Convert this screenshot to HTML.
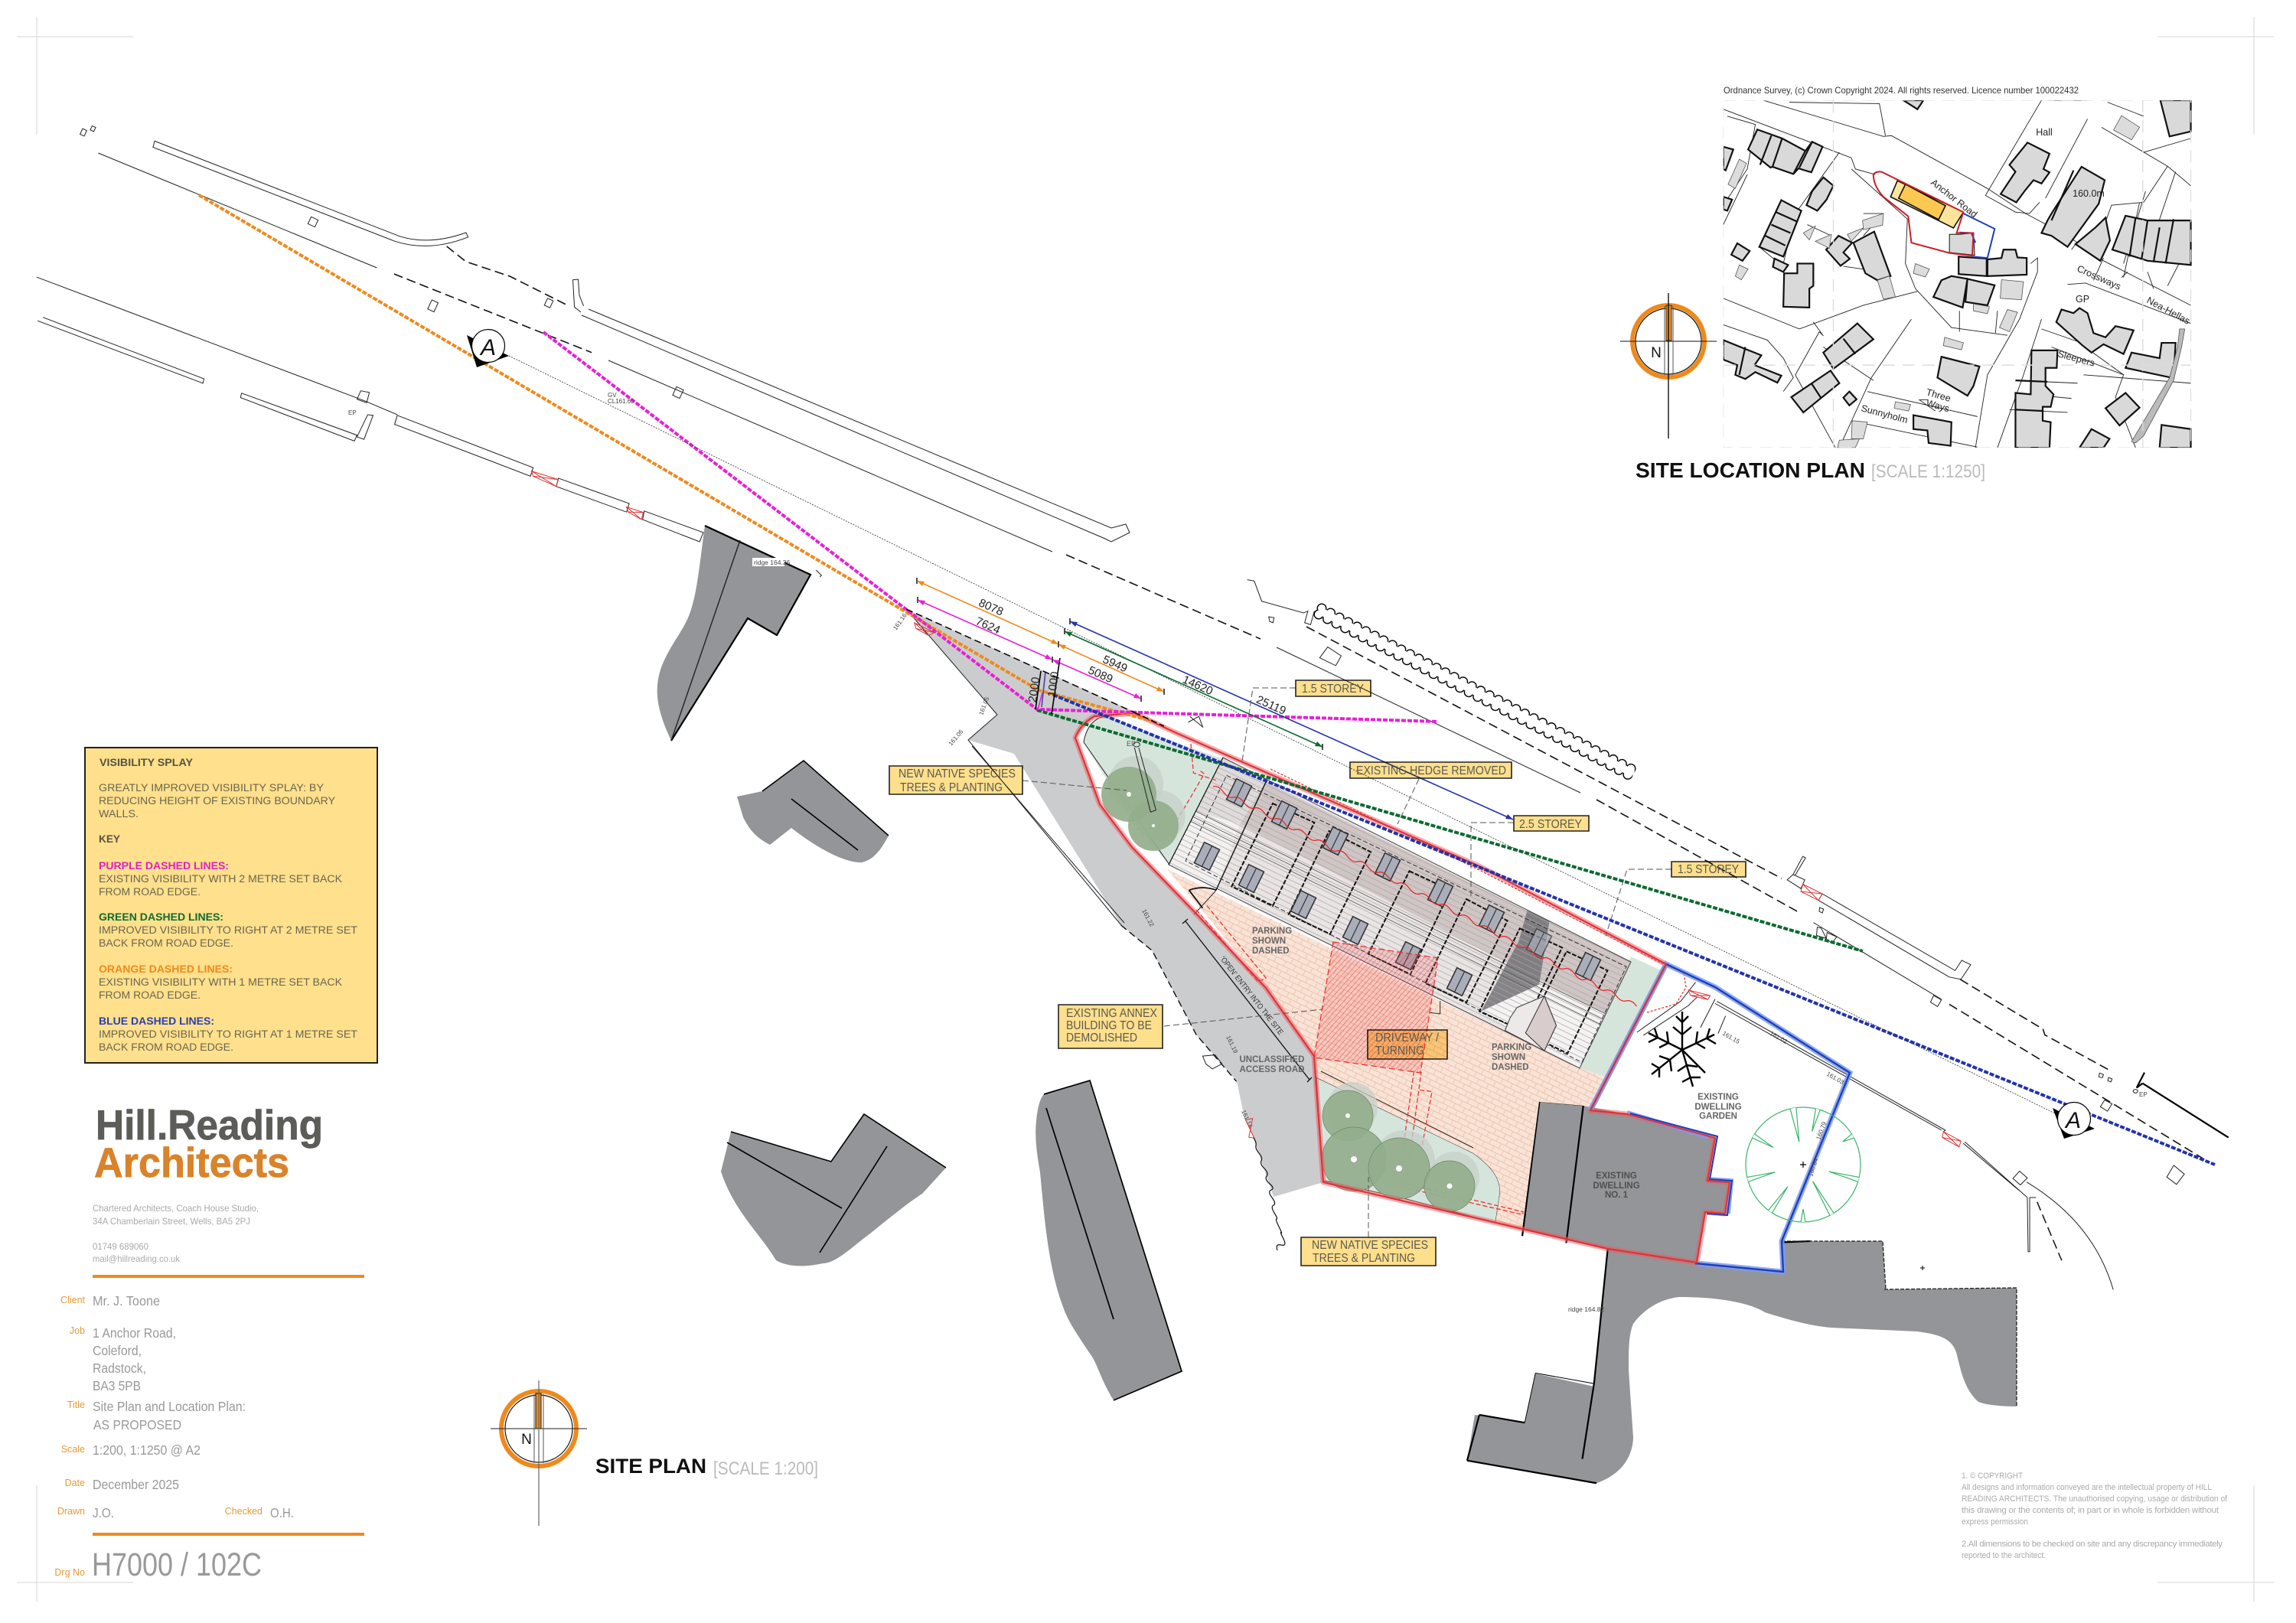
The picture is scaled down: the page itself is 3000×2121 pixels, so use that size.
<!DOCTYPE html>
<html><head><meta charset="utf-8"><style>
html,body{margin:0;padding:0;background:#fff}
svg{display:block;font-family:"Liberation Sans",sans-serif}
svg *{vector-effect:non-scaling-stroke}
.l{fill:none;stroke:#222;stroke-width:1}
.d{fill:none;stroke:#111;stroke-width:1.6;stroke-dasharray:12 6}
.b{fill:#939598;stroke:none}
.k{fill:none;stroke:#000;stroke-width:2.2}
.box{fill:#fedf8c;stroke:#222;stroke-width:1.6;mix-blend-mode:multiply}
.lt{font-size:16px;fill:#5c5a50}
.lead{fill:none;stroke:#555;stroke-width:1;stroke-dasharray:8 4}
.dim{font-size:15px;fill:#222}
.sm{font-size:11.5px;font-weight:bold;fill:#666}
.tiny{font-size:8px;fill:#444}
.win{fill:#a9aeba;stroke:#333;stroke-width:1.6}
.lg{font-size:13.5px;fill:#6a6550}
.tb{font-size:17.3px;fill:#999}
.or{font-size:12.5px;fill:#e39a3a;text-anchor:end}
.cp{font-size:11.4px;fill:#aaa}
.os{fill:#d9d9d9;stroke:#111;stroke-width:2.2}
.ol{fill:#dcdcdc;stroke:#555;stroke-width:.8}
.ot{font-size:12.5px;fill:#222}
.ro{fill:none;stroke:#222;stroke-width:.9}
.dots{fill:none;stroke-linecap:round;stroke-dasharray:0 13}
.vm{fill:none;stroke-width:4;stroke-dasharray:6 2}
</style></head><body>
<svg xmlns="http://www.w3.org/2000/svg" width="3000" height="2121" viewBox="0 0 3000 2121" fill="none">
<defs>
<pattern id="brick" width="14" height="14" patternUnits="userSpaceOnUse" patternTransform="rotate(26)"><rect width="14" height="14" fill="#f8e3d6"/><path d="M0 .5H14M0 7.5H14M3 0V7M10 7V14" stroke="#eec3ae" stroke-width=".9"/></pattern>
<pattern id="rooflines" width="10" height="7" patternUnits="userSpaceOnUse" patternTransform="rotate(26)"><path d="M0 .5H10" stroke="#aaa3a3" stroke-width=".7"/></pattern>
<pattern id="redh" width="5" height="5" patternUnits="userSpaceOnUse" patternTransform="rotate(-48)"><rect width="5" height="5" fill="#e8555a" fill-opacity=".18"/><path d="M0 .5H5" stroke="#e53535" stroke-width=".9" stroke-opacity=".5"/></pattern>
<clipPath id="osclip"><rect x="0" y="113" width="1458" height="1249" transform="translate(290 0)"/></clipPath>
<g id="w"><rect class="win" x="-11" y="-15" width="22" height="30"/><path d="M0 -15V15" stroke="#333" stroke-width="1.2"/></g>
</defs>

<!-- crop marks -->
<g stroke="#ddd" stroke-width="1.2"><path d="M22 48H174M48 22V176M2819 48H2971M2945 22V176M22 2068H174M48 1941V2093M2819 2068H2971M2945 1941V2093"/></g>

<!-- ACCESS ROAD -->
<path d="M1184 796L1482 930L1430 936L1405 964L1437 1051L1479 1107L1563 1194L1654 1291L1717 1380L1729 1545L1664 1564L1638 1487L1626 1461L1616 1413L1563 1352L1505 1242L1465 1209L1325 985L1265 967L1303 934Z" fill="#cbcccd"/>
<path d="M1184 796L1303 934L1265 967L1465 1209M1270 975L1469 1206" class="l"/>

<!-- road and kerb drawing from Z6 -->
<g transform="translate(0 100) scale(.7015 .4464)" class="l">
<path d="M288 189L745 468Q800 495 868 457L872 470Q800 515 735 482L285 207Z"/>
<path d="M183 224L702 560"/>
<path d="M734 578L1102 808" class="d"/>
<path d="M832 497L868 542L950 585L1060 672" class="d"/>
<path d="M1067 595L1077 594L1079 640L1087 672M1082 690L1070 675L1067 595"/>
<path d="M68 587L680 950L740 990"/>
<path d="M80 705L380 885L378 898L70 715"/>
<path d="M450 927L665 1050L660 1067L448 940ZM685 990L695 992L678 1062L665 1055Z"/>
<path d="M672 920L688 925L683 955L665 945Z"/>
<path d="M740 992L993 1145L988 1170L735 1018Z"/>
<path d="M1040 1176L1172 1250L1167 1275L1036 1200Z"/>
<path d="M1200 1272L1310 1335L1303 1362L1197 1297Z"/>
<path d="M990 1155L1040 1180L1036 1200L993 1170Z M1167 1260L1198 1276L1195 1297L1170 1275Z" stroke="#d33"/>
<path d="M990 1155L1036 1200M993 1170L1040 1180M1167 1260L1195 1297M1170 1275L1198 1276" stroke="#d33"/>
<path d="M1520 1445L1530 1460L1527 1465"/>
</g>
<g class="l">
<path d="M769 404L1452 690L1471 685L1476 696L1452 708L1444 704L760 412"/>
<path d="M795 471L1375 721"/>
<path d="M1393 725L1647 835" class="d"/>
<path d="M1668 846L2065 1036"/>
<path d="M1707 819L2328 1148" class="d"/>
<path d="M2086 1045L2350 1192" class="d"/>
</g>
<g class="l" fill="none">
<rect x="-5" y="-5" width="10" height="10" transform="translate(409 290) rotate(25)"/><rect x="-4" y="-7" width="9" height="13" transform="translate(565 400) rotate(25)"/><rect x="-4" y="-5" width="8" height="10" transform="translate(717 396) rotate(25)"/><rect x="-5" y="-6" width="10" height="12" transform="translate(886 513) rotate(25)"/><rect x="-3" y="-4" width="6" height="8" transform="translate(109 173) rotate(25)"/><rect x="-2" y="-3" width="5" height="6" transform="translate(121 168) rotate(25)"/>
</g>
<!-- Z11 east part -->
<g transform="translate(2200 1100) scale(.5102 .3827)" class="l">
<path d="M708 470L920 640L925 660L1090 780" class="d"/>
<path d="M680 555L1340 1090" class="d"/>
<path d="M332 276L660 538"/>
<path d="M355 178L695 440L712 405L735 420L710 470L680 462L345 200Z"/>
<path d="M265 130L280 112L310 130L300 160ZM280 112L305 50L312 55L285 115"/>
<path d="M305 145L355 178L345 200L300 170ZM305 145L345 200M300 170L355 178" stroke="#d33"/>
<path d="M342 292L352 295L365 330L340 320ZM367 310L392 325L380 345L365 335Z"/>
<path d="M1175 825L1395 1010M1180 788L1160 840L1175 825" class="k"/>
<path d="M85 545L670 985L665 990M80 552L660 985"/>
<path d="M665 990L710 1022L705 1042L662 1010ZM665 990L705 1042M662 1010L710 1022" stroke="#d33"/>
<path d="M720 1025L880 1215M716 1030L858 1190M880 1215L882 1400L886 1400L886 1215L902 1215"/>
<path d="M905 1230L968 1430" class="d" style="stroke-width:1.5"/>
<path d="M878 1162Q1050 1300 1100 1530"/>
<path d="M348 225L358 230L355 243L347 238ZM640 525L660 540L650 563L632 548ZM1065 790L1075 795L1072 806L1063 803ZM1088 805L1097 810L1094 820L1086 816ZM1078 882L1097 895L1085 920L1067 905ZM1255 1105L1282 1135L1262 1170L1237 1145ZM860 1125L880 1148L862 1172L843 1150Z"/>
<circle cx="1157" cy="852" r="6"/>
<path d="M107 595L88 655"/>
</g>
<text x="2795" y="1433" class="tiny">EP</text>
<!-- wedge by the tree -->
<g transform="translate(1600 1150) scale(.6378 .5102)" class="l">
<path d="M845 390L935 310L965 262M858 398L950 322L968 300M1005 305L975 378"/>
<path d="M950 282L995 296L990 306L955 296ZM950 282L990 306M955 296L995 296" stroke="#d33"/>
</g>

<!-- Grey buildings -->
<g transform="translate(-4 -3)">
<path class="b" d="M925 690L1063 754L1019 833L981 811L881 971C862 930 858 905 868 875C880 845 895 830 904 808C915 780 918 740 925 690Z"/>
<path class="k" d="M925 690L1063 754L1019 833L981 811L881 971"/>
<path class="l" style="stroke-width:1.4" d="M971 709L881 971"/>
</g>
<rect x="983" y="729" width="42" height="11" fill="#fff"/><text x="985" y="738" class="tiny" style="font-size:8.5px">ridge 164.36</text>
<g transform="translate(-4 -4)">
<path class="b" d="M1054 998L1165 1096C1155 1115 1145 1128 1130 1131C1110 1132 1075 1115 1038 1086L1010 1108C995 1100 985 1092 975 1072L967 1045L1000 1038Z"/>
<path class="k" d="M1000 1038L1054 998L1165 1096M1038 1048L1125 1115" style="stroke-width:1.6"/>
</g>
<g transform="translate(-6 -7)">
<path class="b" d="M1135 1463L1242 1533L1211 1567C1190 1580 1155 1610 1135 1625C1110 1645 1095 1658 1081 1658C1050 1665 1030 1660 1020 1654C1000 1620 965 1590 948 1538L961 1486L1092 1525Z"/>
<path class="k" d="M961 1486L1092 1525L1135 1463L1242 1533M956 1500L1106 1586M1165 1505L1077 1644" style="stroke-width:1.6"/>
</g>
<g transform="translate(-6 -6)">
<path class="b" d="M1430 1418L1550 1798L1461 1836C1445 1810 1440 1790 1433 1779C1410 1745 1400 1730 1394 1711C1375 1660 1370 1590 1365 1538C1360 1510 1358 1490 1360 1471C1362 1450 1366 1440 1370 1436Z"/>
<path class="k" d="M1370 1436L1430 1418L1550 1798L1461 1836M1373 1454L1461 1730" style="stroke-width:1.7"/>
</g>

<!-- right big grey -->
<path class="b" d="M2011 1440L2069 1445L2126 1456L2241 1487L2231 1543L2260 1545L2254 1586L2228 1584L2217 1650L2330 1662L2328 1622L2460 1622L2464 1685L2635 1683L2635 1838C2610 1838 2592 1835 2585 1832C2566 1815 2562 1790 2556 1767C2550 1750 2536 1744 2505 1740L2393 1735C2370 1733 2347 1728 2306 1715C2290 1705 2255 1695 2194 1695C2165 1698 2145 1715 2134 1730C2128 1745 2128 1763 2128 1790C2130 1820 2134 1877 2134 1877C2134 1900 2122 1925 2087 1938L2086 1938L1917 1909L1927 1849L1992 1859L2006 1795L2083 1812L2101 1632L1989 1606Z"/>
<g transform="translate(1600 1150) scale(.6378 .5102)" class="k">
<path d="M785 945L757 1290L733 1483M645 568L610 912M735 578L700 930M497 1487L762 1545M522 1370L615 1390M522 1370L497 1487" />
<path d="M645 568L735 578M637 1263L757 1290M615 1390L637 1263" style="stroke-width:1"/>
<path d="M1142 928L1200 925" />
</g>
<path d="M2462 1685L2635 1683L2635 1838M2328 1622L2460 1622L2464 1685" fill="none" stroke="#222" stroke-width="1.3" stroke-dasharray="5 2"/>
<text x="2049" y="1714" class="tiny" style="font-size:8.5px">ridge 164.82</text>
<path d="M2509 1657h6M2512 1654v6" stroke="#000"/>

<!-- Green gardens -->
<path d="M1416 970C1420 945 1435 935 1450 936L1480 950L1598 992L1528 1130L1480 1075Z" fill="#d6e5dc"/>
<path d="M1416 970C1420 945 1435 935 1450 936" class="l"/>
<path d="M1416 970L1528 1130" class="l"/>
<path d="M2131 1250L2170 1268L2103 1409L2064 1396Z" fill="#d6e5dc"/>
<path d="M1720 1408L1925 1507C1950 1525 1960 1540 1960 1558L1954 1598L1830 1565L1729 1543Z" fill="#d6e5dc" stroke="#333" stroke-width="1"/>
<!-- Paved -->
<path d="M1524 1135L2064 1396L2102 1409L2083 1448L2069 1445L2011 1440L1989 1606L1954 1598L1960 1558C1960 1540 1950 1525 1925 1507L1720 1408L1718 1382L1654 1291L1570 1189Z" fill="url(#brick)"/>
<path d="M1726 1400L1925 1500" stroke="#222" stroke-width="1"/>
<path d="M1528 1130L2064 1396" stroke="#333" stroke-width="1.2"/>

<!-- Roof -->
<path d="M1598 990L2131 1257L2064 1396L1527 1130Z" fill="#e9e4e4"/>
<path d="M1654 1022L2131 1257L2098 1325L1620 1077Z" fill="#cfc5c5"/>
<path d="M1598 990L1654 1022L1620 1077L1562 1060Z" fill="#dfdbdb"/>
<path d="M1562 1060L1620 1077L1589 1163L1527 1130Z" fill="#f3f0f0"/>
<g transform="translate(1500 1000) scale(.4464 .3333)">
<path d="M1110 570L1175 610L1145 860L975 965L1085 690Z" fill="#6c6c70" fill-opacity=".8"/>
<path d="M975 965L1145 860L1340 975L1260 1190Z" fill="#f4f2f2"/>
</g>
<path d="M1598 990L2131 1257L2064 1396L1527 1130Z" fill="url(#rooflines)" stroke="#444" stroke-width="1"/>
<path d="M1562 1060L2098 1325M1558 1067L2095 1332M1555 1073L2092 1339" stroke="#555" stroke-width=".8"/>
<path d="M1598 990L1527 1130" stroke="#111" stroke-width="1.2"/>
<path d="M1654 1022L1589 1163" stroke="#111" stroke-width="1.4"/>
<g transform="translate(1500 1000) scale(.4464 .3333)">
<path d="M230 40L1400 790L1270 1165L110 375Z" fill="none" stroke="#333" stroke-width="1" stroke-dasharray="6 3"/>
<g fill="none" stroke="#111" stroke-width="2" stroke-dasharray="6 2">
<path d="M365 150L487 225L365 552L245 475Z"/><path d="M530 258L652 340L533 662L412 585Z"/><path d="M765 415L885 490L768 820L645 740Z"/><path d="M932 525L1052 610L932 930L812 855Z"/><path d="M1088 640L1212 715L1095 1040L970 965Z"/><path d="M1225 730L1345 805L1228 1130L1105 1050Z"/>
</g>
<path d="M1060 990L1080 950L1160 905L1195 1020L1160 1120L1045 1040Z" fill="#eee9e9" stroke="#333" stroke-width="1"/>
<path d="M1160 905L1195 1020L1160 1120L1105 1050Z" fill="#d8cccc" stroke="#333" stroke-width="1"/>
<path d="M120 490Q160 470 200 490M120 490L160 560" fill="none" stroke="#111" stroke-width="1.8"/>
<path d="M200 490L135 585" stroke="#222" stroke-width="1"/>
<path d="M855 925L855 975L825 970" fill="none" stroke="#222" stroke-width="1"/>
</g>
<!-- windows -->
<use href="#w" transform="translate(1619 1036) rotate(26)"/><use href="#w" transform="translate(1678 1065) rotate(26)"/><use href="#w" transform="translate(1745 1099) rotate(26)"/><use href="#w" transform="translate(1813 1133) rotate(26)"/><use href="#w" transform="translate(1882 1167) rotate(26)"/><use href="#w" transform="translate(1949 1201) rotate(26)"/><use href="#w" transform="translate(2011 1232) rotate(26)" opacity=".7"/><use href="#w" transform="translate(2075 1263) rotate(26)"/><use href="#w" transform="translate(1577 1119) rotate(26)"/><use href="#w" transform="translate(1635 1148) rotate(26)"/><use href="#w" transform="translate(1703 1182) rotate(26)"/><use href="#w" transform="translate(1771 1216) rotate(26)"/><use href="#w" transform="translate(1840 1249) rotate(26)"/><use href="#w" transform="translate(1907 1283) rotate(26)"/>

<!-- Driveway red hatch -->
<path d="M1742 1231L1879 1252L1856 1402L1717 1382Z" fill="url(#redh)" stroke="#e33" stroke-width="1.3" stroke-dasharray="8 4"/>
<g transform="translate(1600 1150) scale(.6378 .5102)" fill="none" stroke="#e33" stroke-width="1.3" stroke-dasharray="6 3">
<path d="M388 490L362 720L378 722L403 492"/>
<path d="M400 538L425 542L405 680L395 678"/>
<path d="M360 775L612 850L610 857L358 785"/>
</g>
<g transform="translate(1100 750) scale(.7015 .5102)" fill="none" stroke="#e33" stroke-width="1.3" stroke-dasharray="6 3">
<path d="M660 860L775 1045L790 1035L680 850"/>
<path d="M668 505L675 512L625 630L585 650L545 655"/>
<path d="M650 435L655 510L700 530"/>
</g>

<!-- trees -->
<g>
<circle cx="1484" cy="1024" r="36" fill="#c6d0c8" fill-opacity=".75"/><circle cx="1516" cy="1066" r="33" fill="#c6d0c8" fill-opacity=".75"/>
<circle cx="1475" cy="1038" r="36" fill="#93ae8c" fill-opacity=".92"/><circle cx="1507" cy="1079" r="33" fill="#93ae8c" fill-opacity=".92"/>
<circle cx="1767" cy="1447" r="33" fill="#c6d0c8" fill-opacity=".75"/><circle cx="1835" cy="1517" r="40" fill="#c6d0c8" fill-opacity=".75"/><circle cx="1900" cy="1538" r="33" fill="#c6d0c8" fill-opacity=".75"/>
<circle cx="1761" cy="1458" r="33" fill="#93ae8c" fill-opacity=".92" stroke="#6d8569" stroke-width=".7"/><circle cx="1769" cy="1515" r="42" fill="#93ae8c" fill-opacity=".92" stroke="#6d8569" stroke-width=".7"/><circle cx="1828" cy="1527" r="40" fill="#93ae8c" fill-opacity=".92" stroke="#6d8569" stroke-width=".7"/><circle cx="1894" cy="1550" r="33" fill="#93ae8c" fill-opacity=".92" stroke="#6d8569" stroke-width=".7"/>
<g fill="#fff"><circle cx="1475" cy="1038" r="3"/><circle cx="1507" cy="1079" r="2"/><circle cx="1761" cy="1458" r="3"/><circle cx="1769" cy="1515" r="4"/><circle cx="1828" cy="1527" r="4"/><circle cx="1894" cy="1550" r="3.5"/></g>
</g>
<!-- lamp post -->
<g transform="translate(1100 750) scale(.7015 .5102)" class="l"><path d="M545 445L575 610L585 605L553 445"/><circle cx="549" cy="437" r="6"/></g>
<text x="1472" y="975" class="tiny" style="font-size:9px;fill:#555">EP</text>

<!-- red wavy -->
<path d="M1585 1028q7 -2 13.5 7t13.5 7t13.5 7t13.5 7t13.5 7t13.5 7t13.5 7t13.5 7t13.5 7t13.5 7t13.5 7t13.5 7t13.5 7t13.5 7t13.5 7t13.5 7t13.5 7t13.5 7t13.5 7t13.5 7t13.5 7t13.5 7t13.5 7t13.5 7t13.5 7t13.5 7t13.5 7t13.5 7t13.5 7t13.5 7t13.5 7t13.5 7t13.5 7t13.5 7t13.5 7t13.5 7t13.5 7t13.5 7t13.5 7t13.5 7t13.5 7" fill="none" stroke="#e22" stroke-width="1.2"/>
<path d="M2152 1323L2190 1312L2203 1290L2200 1272M1660 1005L1935 1138L2177 1262" fill="none" stroke="#e22" stroke-width="1.2" stroke-dasharray="3 2"/>

<!-- boundary -->
<path d="M1430 936Q1412 946 1405 964L1437 1051L1479 1107L1563 1194L1654 1291L1717 1380L1729 1545L1989 1606L2101 1632L2217 1650L2228 1584L2254 1586L2260 1545L2231 1543L2241 1487L2126 1456L2078 1451L2177 1260L1935 1133L1535 957L1482 932Z" fill="none" stroke="#ed5a5f" stroke-opacity=".5" stroke-width="7" stroke-linejoin="round"/>
<path d="M2217 1651L2330 1662L2328 1622L2417 1402L2241 1290L2177 1260L2078 1451" fill="none" stroke="#7e9bee" stroke-opacity=".85" stroke-width="7"/>
<path d="M2232 1486L2126 1454M2232 1541L2262 1543L2258 1586" fill="none" stroke="#7e9bee" stroke-opacity=".85" stroke-width="6"/>
<path d="M2078 1451L2177 1260L2241 1290L2417 1402L2328 1622L2330 1662L2215 1651" fill="none" stroke="#1d3fb8" stroke-width="2.4"/>
<path d="M2130 1455L2244 1485L2234 1541L2263 1543L2257 1588L2230 1586" fill="none" stroke="#1d3fb8" stroke-width="2"/>
<path d="M1430 936Q1412 946 1405 964L1437 1051L1479 1107L1563 1194L1654 1291L1717 1380L1729 1545L1989 1606L2101 1632L2217 1650L2228 1584L2254 1586L2260 1545L2231 1543L2241 1487L2126 1456L2078 1451L2177 1260L1935 1133L1535 957L1482 932Z" fill="none" stroke="#d9363c" stroke-width="2.2" stroke-linejoin="round"/>

<!-- green tree symbol -->
<g transform="translate(2356 1522)" stroke="#3bb56a" stroke-width="1.2" fill="none">
<circle r="75"/>
<g stroke="#3bb56a"><path d="M75 -4L30 0L75 4" transform="rotate(-100)" style="fill:#fff"/><path d="M75 -3L45 0L75 3" transform="rotate(-75)" style="fill:#fff"/><path d="M75 -3L45 0L75 3" transform="rotate(-150)" style="fill:#fff"/><path d="M75 -3L60 0L75 3" transform="rotate(-30)" style="fill:#fff"/><path d="M75 -3L38 0L75 3" transform="rotate(-195)" style="fill:#fff"/><path d="M75 -3L35 0L75 3" transform="rotate(15)" style="fill:#fff"/><path d="M75 -3L25 0L75 3" transform="rotate(60)" style="fill:#fff"/><path d="M75 -3L35 0L75 3" transform="rotate(125)" style="fill:#fff"/><path d="M75 -3L58 0L75 3" transform="rotate(90)" style="fill:#fff"/></g>
<path d="M-4 0H4M0 -4V4" stroke="#000"/>
</g>
<!-- black tree symbol -->
<g transform="translate(2198 1372)" stroke="#000" stroke-width="2.4" fill="none">
<path d="M0 0L0 -50M0 0L-44 -22M0 0L42 -20M0 0L14 48M0 0L-40 32M0 0L30 30"/>
<path d="M0 -20L-12 -30M0 -20L12 -30M0 -36L-8 -44M0 -36L8 -44M-18 -9L-20 -24M-18 -9L-30 -3M-32 -16L-36 -28M-32 -16L-44 -10M18 -9L20 -24M18 -9L30 -2M32 -15L36 -28M32 -15L44 -8M-16 13L-30 8M-16 13L-14 28M-30 24L-40 18M-30 24L-30 36M6 20L-6 28M6 20L20 22M11 36L0 42M11 36L24 36"/>
</g>

<!-- hedge -->
<g>
<path class="dots" d="M1727 795L2136 1007" stroke="#000" stroke-width="13"/>
<path class="dots" d="M1723 803L2132 1015" stroke="#000" stroke-width="13"/>
<path class="dots" d="M1727 795L2136 1007" stroke="#fff" stroke-width="10.2"/>
<path class="dots" d="M1723 803L2132 1015" stroke="#fff" stroke-width="10.2"/>
<path d="M1726 799L2134 1011" stroke="#fff" stroke-width="10"/>
</g>
<g transform="translate(1100 750) scale(.7015 .5102)" class="l">
<path d="M755 15L768 18L782 70L860 100L868 95L862 125L873 130L880 95"/>
<path d="M795 110L805 112L803 125L797 122ZM905 187L930 210L920 235L890 215Z"/>
<path d="M645 380L665 365L672 392L648 365" />
</g>

<!-- visibility lines -->
<path class="vm" d="M260 255L1357 902L1504 942" stroke="#ee8a1d"/>
<path class="vm" d="M710 434L1355 927L1879 943" stroke="#e91fd6"/>
<path class="vm" d="M1355 928L2434 1243" stroke="#0c6a30"/>
<path class="vm" d="M1376 908L2894 1522" stroke="#2233aa"/>
<!-- section line -->
<path d="M665 465L2685 1455" stroke="#333" stroke-width=".8" stroke-dasharray="2 1.5"/>
<!-- A markers -->
<g><path d="M610 438L623 480L665 465Z" fill="#000"/><circle cx="638" cy="452" r="21.5" fill="#fff" stroke="#000" stroke-width="1.2"/><text x="638" y="464" text-anchor="middle" font-size="30" font-style="italic" fill="#111">A</text></g>
<g><path d="M2682 1448L2697 1488L2737 1475Z" fill="#000"/><circle cx="2710" cy="1462" r="21.5" fill="#fff" stroke="#000" stroke-width="1.2"/><text x="2709" y="1474" text-anchor="middle" font-size="30" font-style="italic" fill="#111">A</text></g>

<!-- dimension lines -->
<g stroke-width="1.6" fill="none">
<path d="M1198 759L1383 842L1521 904" stroke="#ee8a1d"/>
<path d="M1199 784L1375 862L1491 913" stroke="#e91fd6"/>
<path d="M1398 812L1977 1071" stroke="#2233aa"/>
<path d="M1391 825L1728 976" stroke="#0c6a30"/>
<path d="M1360 877L1353 927M1385 860L1374 933" stroke="#000"/>
<path d="M1366 878L1361 924" stroke="#44a"/>
<path d="M1362 905L1356 928" stroke="#e91fd6"/>
<path d="M1198 755V763M1383 838V846M1521 900V908M1199 780V788M1375 858V866M1491 909V917M1398 808V816M1391 821V829M1728 972V980" stroke="#222"/>
</g>
<g fill="#ee8a1d"><path d="M1198 759l10 1l-3 6zM1383 842l-10 -1l3 -6zM1383 842l10 1l-3 6zM1521 904l-10 -1l3 -6z"/></g>
<g fill="#e91fd6"><path d="M1199 784l10 1l-3 6zM1375 862l-10 -1l3 -6zM1375 862l10 1l-3 6zM1491 913l-10 -1l3 -6z"/></g>
<path d="M1398 812l10 1l-3 6zM1977 1071l-10 -1l3 -6z" fill="#2233aa"/><path d="M1391 825l10 1l-3 6zM1728 976l-10 -1l3 -6z" fill="#0c6a30"/>
<g class="dim">
<text transform="translate(1293 798) rotate(24)" text-anchor="middle">8078</text>
<text transform="translate(1289 822) rotate(24)" text-anchor="middle">7624</text>
<text transform="translate(1455 872) rotate(24)" text-anchor="middle">5949</text>
<text transform="translate(1436 886) rotate(24)" text-anchor="middle">5089</text>
<text transform="translate(1563 900) rotate(24)" text-anchor="middle">14620</text>
<text transform="translate(1659 926) rotate(24)" text-anchor="middle">25119</text>
<text transform="translate(1356 902) rotate(-82)" text-anchor="middle">2000</text>
<text transform="translate(1381 895) rotate(-82)" text-anchor="middle">1000</text>
</g>
<g class="tiny">
<text transform="translate(1171 824) rotate(-55)">161.16</text><text transform="translate(1284 935) rotate(-70)">161.05</text><text transform="translate(1243 975) rotate(-50)">161.06</text>
<text transform="translate(1492 1190) rotate(62)">161.22</text>
<text transform="translate(1602 1355) rotate(64)">161.19</text>
<text transform="translate(1622 1452) rotate(66)">161.14</text>
<text transform="translate(2250 1352) rotate(30)">161.15</text>
<text transform="translate(2312 1352) rotate(30)">161.02</text>
<text transform="translate(2386 1405) rotate(30)">161.03</text>
<text transform="translate(2378 1490) rotate(-70)">160.79</text>
<text transform="translate(2368 1538) rotate(-72)">160.84</text>
<text x="794" y="527">CL161.60</text><text x="794" y="519">GV</text>
<text x="455" y="542">EP</text>
</g>
<!-- west kerb strip and entry line -->
<path d="M1549 1204L1711 1411" stroke="#111" stroke-width="1.3"/>
<path d="M1545 1207L1552 1201M1708 1414L1714 1408" stroke="#111" stroke-width="1.3"/>
<g transform="translate(1100 750) scale(.7015 .5102)" class="l">
<path d="M545 355L600 390" class="k" style="stroke-dasharray:8 4;stroke-width:1.5"/>
<path d="M120 90L545 355" class="k" style="stroke-dasharray:9 5;stroke-width:1.5"/>
<path d="M520 900L578 965L660 1180L735 1300" class="k" style="stroke-dasharray:9 5;stroke-width:1.3"/>
<path d="M672 1235L695 1232L708 1255L690 1268L678 1255Z"/>
<path d="M752 1398L768 1445L758 1443L765 1395Z" stroke="#d33"/>
<path d="M135 125L172 150L162 158L138 140ZM135 125L162 158M138 140L172 150" stroke="#d33"/>
</g>
<path d="M1638 1487q4 6 3 10t4 10t3 10t4 10t3 10t4 10t2 8t1 10t2 10t1 10t3 8t3 10t3 8t3 8t-3 8t-5 7" fill="none" stroke="#111" stroke-width="1.2"/>
<g class="sm">
<text transform="translate(1594 1253) rotate(52)" style="font-size:10px;font-weight:normal;fill:#333" textLength="127" lengthAdjust="spacingAndGlyphs">'OPEN' ENTRY INTO THE SITE</text>
<text x="1662" y="1388" text-anchor="middle">UNCLASSIFIED</text><text x="1662" y="1401" text-anchor="middle">ACCESS ROAD</text>
<text x="1636" y="1220">PARKING</text><text x="1636" y="1233">SHOWN</text><text x="1636" y="1246">DASHED</text>
<text x="1949" y="1372">PARKING</text><text x="1949" y="1385">SHOWN</text><text x="1949" y="1398">DASHED</text>
<text x="2245" y="1437" text-anchor="middle">EXISTING</text><text x="2245" y="1450" text-anchor="middle">DWELLING</text><text x="2245" y="1462" text-anchor="middle">GARDEN</text>
<text x="2112" y="1540" text-anchor="middle" style="fill:#4f4f4f">EXISTING</text><text x="2112" y="1553" text-anchor="middle" style="fill:#4f4f4f">DWELLING</text><text x="2112" y="1565" text-anchor="middle" style="fill:#4f4f4f">NO. 1</text>
</g>

<!-- leaders -->
<g class="lead">
<path d="M1693 899H1637L1623 995"/><path d="M1854 1018L1826 1077"/><path d="M1978 1075H1922V1171"/><path d="M2184 1136H2126L2098 1223"/><path d="M1336 1020L1472 1033"/><path d="M1521 1341L1728 1319"/><path d="M1788 1617V1538"/>
</g>
<!-- yellow labels -->
<rect class="box" x="1693" y="889" width="98" height="21"/><text class="lt" x="1701" y="905" textLength="81" lengthAdjust="spacingAndGlyphs">1.5 STOREY</text>
<rect class="box" x="1764" y="996" width="211" height="21"/><text class="lt" x="1772" y="1012" textLength="196" lengthAdjust="spacingAndGlyphs">EXISTING HEDGE REMOVED</text>
<rect class="box" x="1978" y="1066" width="98" height="20"/><text class="lt" x="1985" y="1082" textLength="82" lengthAdjust="spacingAndGlyphs">2.5 STOREY</text>
<rect class="box" x="2184" y="1126" width="97" height="20"/><text class="lt" x="2192" y="1141" textLength="80" lengthAdjust="spacingAndGlyphs">1.5 STOREY</text>
<rect class="box" x="1162" y="1001" width="174" height="37"/><text class="lt" x="1174" y="1016" textLength="153" lengthAdjust="spacingAndGlyphs">NEW NATIVE SPECIES</text><text class="lt" x="1176" y="1034" textLength="134" lengthAdjust="spacingAndGlyphs">TREES &amp; PLANTING</text>
<rect class="box" x="1383" y="1313" width="136" height="57"/><text class="lt" x="1393" y="1329" textLength="119" lengthAdjust="spacingAndGlyphs">EXISTING ANNEX</text><text class="lt" x="1393" y="1345" textLength="112" lengthAdjust="spacingAndGlyphs">BUILDING TO BE</text><text class="lt" x="1393" y="1361" textLength="93" lengthAdjust="spacingAndGlyphs">DEMOLISHED</text>
<rect class="box" x="1787" y="1346" width="104" height="38"/><text class="lt" x="1797" y="1361" textLength="83" lengthAdjust="spacingAndGlyphs">DRIVEWAY /</text><text class="lt" x="1797" y="1378" textLength="64" lengthAdjust="spacingAndGlyphs">TURNING</text>
<rect class="box" x="1700" y="1617" width="176" height="37"/><text class="lt" x="1714" y="1632" textLength="152" lengthAdjust="spacingAndGlyphs">NEW NATIVE SPECIES</text><text class="lt" x="1715" y="1649" textLength="134" lengthAdjust="spacingAndGlyphs">TREES &amp; PLANTING</text>

<!-- Legend -->
<rect x="111" y="977" width="382" height="412" fill="#ffe08c" stroke="#222" stroke-width="2"/>
<g class="lg" transform="translate(0 -4)">
<text x="130" y="1005" font-weight="bold" style="fill:#55523f" textLength="122" lengthAdjust="spacingAndGlyphs">VISIBILITY SPLAY</text>
<text x="129" y="1038" textLength="294" lengthAdjust="spacingAndGlyphs">GREATLY IMPROVED VISIBILITY SPLAY: BY</text>
<text x="129" y="1055" textLength="309" lengthAdjust="spacingAndGlyphs">REDUCING HEIGHT OF EXISTING BOUNDARY</text>
<text x="129" y="1072" textLength="52" lengthAdjust="spacingAndGlyphs">WALLS.</text>
<text x="129" y="1105" font-weight="bold" style="fill:#55523f" textLength="28" lengthAdjust="spacingAndGlyphs">KEY</text>
<text x="129" y="1140" font-weight="bold" style="fill:#e01ec8" textLength="170" lengthAdjust="spacingAndGlyphs">PURPLE DASHED LINES:</text>
<text x="129" y="1157" textLength="318" lengthAdjust="spacingAndGlyphs">EXISTING VISIBILITY WITH 2 METRE SET BACK</text>
<text x="129" y="1174" textLength="133" lengthAdjust="spacingAndGlyphs">FROM ROAD EDGE.</text>
<text x="129" y="1207" font-weight="bold" style="fill:#0f6b2e" textLength="163" lengthAdjust="spacingAndGlyphs">GREEN DASHED LINES:</text>
<text x="129" y="1224" textLength="338" lengthAdjust="spacingAndGlyphs">IMPROVED VISIBILITY TO RIGHT AT 2 METRE SET</text>
<text x="129" y="1241" textLength="176" lengthAdjust="spacingAndGlyphs">BACK FROM ROAD EDGE.</text>
<text x="129" y="1275" font-weight="bold" style="fill:#ee8a1d" textLength="175" lengthAdjust="spacingAndGlyphs">ORANGE DASHED LINES:</text>
<text x="129" y="1292" textLength="318" lengthAdjust="spacingAndGlyphs">EXISTING VISIBILITY WITH 1 METRE SET BACK</text>
<text x="129" y="1309" textLength="133" lengthAdjust="spacingAndGlyphs">FROM ROAD EDGE.</text>
<text x="129" y="1343" font-weight="bold" style="fill:#2a3fb0" textLength="151" lengthAdjust="spacingAndGlyphs">BLUE DASHED LINES:</text>
<text x="129" y="1360" textLength="338" lengthAdjust="spacingAndGlyphs">IMPROVED VISIBILITY TO RIGHT AT 1 METRE SET</text>
<text x="129" y="1377" textLength="176" lengthAdjust="spacingAndGlyphs">BACK FROM ROAD EDGE.</text>
</g>

<!-- Title block -->
<text x="125" y="1489" font-size="55" font-weight="bold" fill="#5c5c58" stroke="#5c5c58" stroke-width=".8" textLength="297" lengthAdjust="spacingAndGlyphs">Hill.Reading</text>
<text x="123" y="1538" font-size="55" font-weight="bold" fill="#d9832a" stroke="#d9832a" stroke-width=".8" textLength="255" lengthAdjust="spacingAndGlyphs">Architects</text>
<g font-size="12" fill="#aaa">
<text x="121" y="1583" textLength="217" lengthAdjust="spacingAndGlyphs">Chartered Architects, Coach House Studio,</text>
<text x="121" y="1600" textLength="206" lengthAdjust="spacingAndGlyphs">34A Chamberlain Street, Wells, BA5 2PJ</text>
<text x="121" y="1633" textLength="73" lengthAdjust="spacingAndGlyphs">01749 689060</text>
<text x="121" y="1649" textLength="114" lengthAdjust="spacingAndGlyphs">mail@hillreading.co.uk</text>
</g>
<path d="M121 1668H476M121 2005H476" stroke="#ee8a1d" stroke-width="4"/>
<g class="or"><text x="111" y="1703">Client</text><text x="111" y="1743">Job</text><text x="111" y="1840">Title</text><text x="111" y="1898">Scale</text><text x="111" y="1942">Date</text><text x="111" y="1979">Drawn</text><text x="343" y="1979">Checked</text><text x="111" y="2059">Drg No</text></g>
<g class="tb">
<text x="121" y="1706" textLength="88" lengthAdjust="spacingAndGlyphs">Mr. J. Toone</text>
<text x="121" y="1748" textLength="109" lengthAdjust="spacingAndGlyphs">1 Anchor Road,</text><text x="121" y="1771" textLength="64" lengthAdjust="spacingAndGlyphs">Coleford,</text><text x="121" y="1794" textLength="70" lengthAdjust="spacingAndGlyphs">Radstock,</text><text x="121" y="1817" textLength="63" lengthAdjust="spacingAndGlyphs">BA3 5PB</text>
<text x="121" y="1844" textLength="200" lengthAdjust="spacingAndGlyphs">Site Plan and Location Plan:</text><text x="122" y="1868" textLength="115" lengthAdjust="spacingAndGlyphs">AS PROPOSED</text>
<text x="121" y="1901" textLength="141" lengthAdjust="spacingAndGlyphs">1:200, 1:1250 @ A2</text>
<text x="121" y="1946" textLength="113" lengthAdjust="spacingAndGlyphs">December 2025</text>
<text x="121" y="1983" textLength="28" lengthAdjust="spacingAndGlyphs">J.O.</text><text x="353" y="1983" textLength="31" lengthAdjust="spacingAndGlyphs">O.H.</text>
</g>
<text x="120" y="2059" font-size="43" fill="#999" textLength="222" lengthAdjust="spacingAndGlyphs">H7000 / 102C</text>

<!-- Site compass -->
<g>
<circle cx="704" cy="1867" r="49" stroke="#ee8a1d" stroke-width="6"/><circle cx="704" cy="1867" r="44" stroke="#111" stroke-width="1.2"/>
<rect x="700" y="1821" width="7" height="46" fill="#ee8a1d" stroke="#111" stroke-width="1"/>
<path d="M641 1867H767" stroke="#222" stroke-width="1"/><path d="M704 1804V1994" stroke="#666" stroke-width="1.2"/><path d="M698 1822V1912M710 1822V1912" stroke="#555" stroke-width="1"/>
<text x="688" y="1887" font-size="19" fill="#111" text-anchor="middle">N</text>
<text x="778" y="1925" font-size="27" font-weight="bold" fill="#111" textLength="145" lengthAdjust="spacingAndGlyphs">SITE PLAN</text>
<text x="932" y="1927" font-size="24" fill="#bbb" textLength="137" lengthAdjust="spacingAndGlyphs">[SCALE 1:200]</text>
</g>

<!-- Location plan -->
<text x="2252" y="122" font-size="12" fill="#333" textLength="464" lengthAdjust="spacingAndGlyphs">Ordnance Survey, (c) Crown Copyright 2024. All rights reserved. Licence number 100022432</text>
<g transform="translate(2100 90) scale(.523 .3635)">
<g clip-path="url(#osclip)">
<g class="ro">
<path d="M290 145L610 320L620 360L670 380"/>
<path d="M390 113L690 243L710 240L950 430L1045 520L1150 600L1240 690L1458 850"/>
<path d="M455 120L680 125L695 240"/>
<path d="M1085 113L945 455L1020 515L1055 520L1080 480"/>
<path d="M1200 113L1100 113M1200 180L1095 465"/>
<path d="M1235 210L1400 350L1340 480L1260 490L1240 570"/>
<path d="M1340 300L1458 250M1250 120L1340 170"/>
<path d="M610 360L750 540L745 700L770 790L860 930L1000 958"/>
<path d="M290 825L480 935L640 850L775 800"/><path d="M290 920L400 975L440 1040L465 1110L440 1160"/>
<path d="M1150 775L1195 770L1458 915"/><path d="M1085 900L1040 1100L975 1362"/><path d="M1058 700L1075 680L1075 730L1030 900L950 1100L920 1362"/>
<path d="M300 170L370 200L350 360L290 490"/><path d="M580 300L470 520L440 700"/><path d="M760 900L660 1110L580 1362"/>
<path d="M650 1160L925 1250M800 1190L780 1190L820 1230"/><path d="M530 945L470 1100L570 1362"/><path d="M1085 935L1175 980L1290 1100L1270 1180L1320 1362"/>
<path d="M1020 1120L1175 1130M1020 1165L1160 1185M1005 1225L1150 1235"/><path d="M1350 730L1365 790M1300 730L1285 750M1240 680L1215 760"/><path d="M880 870L880 945M975 870L970 950"/>
<path d="M515 910L540 960L530 945M590 710L640 720"/>
<path d="M640 520L690 520L640 600M500 560L560 600"/>
<path d="M1190 1100L1458 1130M1110 1000L1290 1100M625 1270L925 1360M540 1000L665 1120M350 380L290 560M430 700L380 640M1170 630L1160 650"/>
<path d="M1400 350L1458 420M1420 370L1345 690M1345 440L1290 700M1330 480L1290 750M1450 640L1400 780"/>
</g>
<g class="os">
<path d="M375 218L437 250L495 295L512 262L538 280L510 372L478 358L465 378L413 352L408 355L352 290Z"/><path d="M540 390L565 420L548 470L525 510L498 490L512 440Z"/><path d="M435 472L485 510L440 675L380 640Z"/><path d="M325 627L356 655L338 690L310 668Z"/><path d="M418 682L452 705L440 730L414 712Z"/><path d="M442 735L475 735L475 700L515 700L515 780L505 790L505 858L440 855Z"/><path d="M578 600L612 625L590 660L606 683L583 708L547 650Z"/><path d="M615 625L667 585L708 745L675 760L645 735Z"/><path d="M290 280L315 290L296 365L290 360Z"/>
<path d="M855 595L880 595L915 590L918 670L855 660Z" style="stroke-width:1"/><path d="M878 675L948 682L948 745L878 738Z"/><path d="M950 685L985 680L990 650L1020 650L1025 678L1048 680L1048 740L950 745Z"/><path d="M835 760L860 745L900 755L888 858L815 820Z"/><path d="M900 755L968 778L950 850L895 838Z"/>
<path d="M1050 265L1105 305L1090 360L1105 372L1085 412L1065 400L1045 435L1022 480L983 450L1020 370L1005 345Z"/><path d="M1185 352L1243 400L1228 485L1150 640L1110 600L1085 590L1100 545L1110 520Z"/><path d="M1245 535L1256 617L1232 690L1170 630L1220 570Z"/><path d="M1295 528L1350 545L1458 545L1458 705L1350 690L1262 650Z"/><path d="M1382 113L1458 113L1458 225L1405 243Z"/>
<path d="M1135 865L1165 878L1180 860L1200 878L1215 950L1245 965L1270 925L1315 940L1290 1025L1240 990L1210 1020L1188 995L1122 910Z"/><path d="M1420 985L1415 1112L1295 1075L1310 1020L1380 1040L1385 985Z"/><path d="M1060 1012L1125 1012L1123 1075L1095 1075L1095 1140L1115 1170L1108 1215L1088 1215L1088 1265L1108 1270L1105 1362L1020 1362L1020 1165L1058 1170Z"/><path d="M835 1035L930 1070L915 1140L900 1175L825 1110Z"/><path d="M765 1245L860 1270L858 1355L803 1345L800 1300L765 1295Z"/><path d="M1295 1165L1330 1218L1280 1282L1245 1220Z"/><path d="M1210 1295L1255 1330L1240 1362L1180 1362Z"/><path d="M1385 1280L1458 1295L1458 1362L1380 1362Z"/><path d="M625 915L665 972L565 1078L540 1020Z"/><path d="M558 1085L580 1130L490 1235L460 1180Z"/><path d="M605 1160L623 1188L605 1210L590 1182Z"/><path d="M290 975L385 1030L368 1065L435 1103L425 1128L370 1090L345 1115L320 1100L325 1065L290 1045Z"/>
<path d="M740 113L790 113L775 145Z"/><path d="M290 460L312 470L300 510L290 505Z"/>
<!-- party walls -->
<path d="M410 240L382 345M437 250L413 352M495 295L465 378M512 262L480 355M422 515L473 548M410 560L458 590M395 600L445 635M1165 365L1110 545M1320 535L1305 675M1350 545L1335 685M1380 570L1365 695M1415 540L1395 700M590 970L620 1025M510 1130L535 1185M1020 1120L1100 1125M1020 1225L1090 1230M345 1000L330 1100" fill="none"/>
</g>
<g class="ol">
<path d="M638 545L690 520L688 562L640 578Z"/><path d="M600 595L640 572L610 620Z"/><path d="M520 620L560 595L555 645Z"/><path d="M490 590L520 565L505 615Z"/><path d="M330 325L348 340L320 430L302 415Z"/><path d="M330 705L352 720L335 758L320 745Z"/><path d="M675 760L705 745L720 820L690 828Z"/><path d="M985 758L1040 765L1035 830L982 825Z"/><path d="M770 700L805 720L795 748L765 735Z"/><path d="M843 965L890 985L885 1010L840 995Z"/><path d="M1000 865L1025 875L1005 945L980 930Z"/><path d="M720 1197L758 1207L753 1230L717 1220Z"/><path d="M915 845L955 855L950 880L915 870Z"/><path d="M1285 168L1330 210L1310 255L1265 220Z"/>
<path d="M1430 935L1443 935L1435 1000L1415 1120L1340 1320L1320 1345L1310 1340L1405 1110L1425 1000Z" fill="#bbb"/>
<path d="M612 1265L650 1270L640 1330L610 1330ZM580 1335L630 1330L620 1362L575 1362Z"/>
</g>
<path d="M725 402L890 515L865 572L708 460Z" fill="#fde49b" stroke="#111" stroke-width="1.6"/>
<path d="M745 415L845 492L828 542L728 465Z" fill="#fbc94f" stroke="#111" stroke-width="1.6"/>
<path d="M890 520L968 575L950 680L912 675M880 588L910 590L920 625" fill="none" stroke="#1a3fb8" stroke-width="2"/>
<path d="M665 380Q670 368 685 370L890 515L873 590L915 590L912 672L855 662L760 625L752 530L690 460Q665 420 665 380Z" fill="none" stroke="#c9202a" stroke-width="2"/>
<path d="M565 113V1362M1338 113V1362M290 1065H1458" stroke="#ddd" stroke-width="1.4" stroke-dasharray="16 10"/>
<path d="M290 113H1458V1362H290Z" fill="none" stroke="#ddd" stroke-width="1.2" stroke-dasharray="16 10"/>
</g>
</g>
<g class="ot">
<text x="2671" y="177" text-anchor="middle">Hall</text>
<text transform="translate(2522 240) rotate(38)">Anchor Road</text>
<text x="2729" y="257" text-anchor="middle">160.0m</text>
<text transform="translate(2713 354) rotate(24)">Crossways</text>
<text transform="translate(2804 395) rotate(28)">Nea-Hellas</text>
<text x="2721" y="395" text-anchor="middle">GP</text>
<text transform="translate(2688 466) rotate(15)">Sleepers</text>
<text transform="translate(2516 516) rotate(16)">Three</text><text transform="translate(2516 530) rotate(16)">Ways</text>
<text transform="translate(2431 537) rotate(15)">Sunnyholm</text>
</g>
<!-- Location compass -->
<g>
<circle cx="2180" cy="446" r="47" stroke="#ee8a1d" stroke-width="6"/><circle cx="2180" cy="446" r="43" stroke="#111" stroke-width="1.2"/>
<rect x="2177" y="399" width="7" height="46" fill="#ee8a1d" stroke="#111" stroke-width=".8"/>
<path d="M2117 446H2243" stroke="#111" stroke-width="1"/><path d="M2180 383V573" stroke="#111" stroke-width="1.4"/><path d="M2175 400V490M2186 400V490" stroke="#555" stroke-width="1"/>
<text x="2164" y="467" font-size="19" fill="#111" text-anchor="middle">N</text>
</g>
<text x="2137" y="624" font-size="28" font-weight="bold" fill="#111" textLength="300" lengthAdjust="spacingAndGlyphs">SITE LOCATION PLAN</text>
<text x="2445" y="624" font-size="24" fill="#bbb" textLength="149" lengthAdjust="spacingAndGlyphs">[SCALE 1:1250]</text>

<!-- copyright -->
<g class="cp">
<text x="2563" y="1932" textLength="80" lengthAdjust="spacingAndGlyphs">1. © COPYRIGHT</text>
<text x="2563" y="1947" textLength="327" lengthAdjust="spacingAndGlyphs">All designs and information conveyed are the intellectual property of HILL</text>
<text x="2563" y="1962" textLength="347" lengthAdjust="spacingAndGlyphs">READING ARCHITECTS. The unauthorised copying, usage or distribution of</text>
<text x="2563" y="1977" textLength="336" lengthAdjust="spacing">this drawing  or  the contents of;  in part  or  in  whole  is  forbidden  without</text>
<text x="2563" y="1992" textLength="87" lengthAdjust="spacingAndGlyphs">express permission</text>
<text x="2563" y="2021" textLength="341" lengthAdjust="spacing">2.All  dimensions  to   be   checked on site and any discrepancy immediately</text>
<text x="2563" y="2036" textLength="110" lengthAdjust="spacingAndGlyphs">reported to the architect.</text>
</g>
</svg>
</body></html>
